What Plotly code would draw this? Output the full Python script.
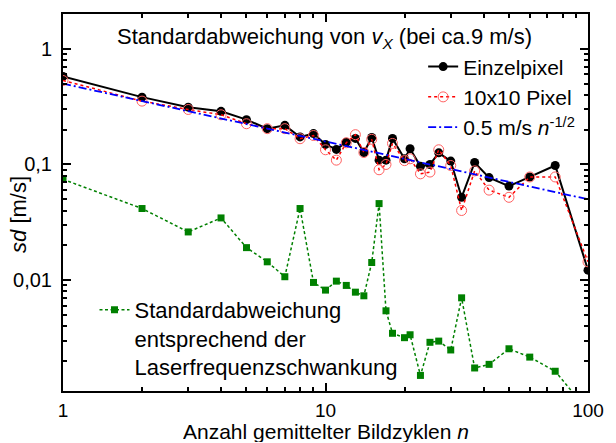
import plotly.graph_objects as go

# ---------------- data ----------------
n_vals = [1, 2, 3, 4, 5, 6, 7, 8, 9, 10, 11, 12, 13, 14, 15, 16, 17, 18, 20, 21,
          23, 25, 27, 30, 33, 37, 42, 50, 60, 75, 100]

sd_einzelpixel = [0.577, 0.382, 0.313, 0.288, 0.244, 0.204, 0.218, 0.173, 0.185, 0.149,
                  0.135, 0.156, 0.168, 0.127, 0.171, 0.109, 0.109, 0.168, 0.112, 0.137,
                  0.0964, 0.100, 0.126, 0.107, 0.052, 0.104, 0.077, 0.065, 0.078, 0.098,
                  0.0122]

sd_10x10 = [0.532, 0.353, 0.299, 0.269, 0.225, 0.204, 0.204, 0.167, 0.178, 0.134,
            0.109, 0.154, 0.181, 0.127, 0.165, 0.090, 0.100, 0.152, 0.108, 0.112,
            0.083, 0.086, 0.134, 0.098, 0.040, 0.088, 0.060, 0.052, 0.078, 0.078,
            0.0144]

sd_laser = [0.0744, 0.0416, 0.0261, 0.0345, 0.0191, 0.0144, 0.0107, 0.0416, 0.00955, 0.0082,
            0.0098, 0.0090, 0.00787, 0.00732, 0.0142, 0.0459, 0.00543, 0.00347, 0.00318, 0.00337,
            0.00150, 0.0029, 0.00297, 0.00249, 0.00703, 0.00174, 0.00187, 0.00255, 0.00216, 0.00163,
            0.00074]

fit_n = [1, 100]
fit_sd = [0.5, 0.05]

x_tickvals = [1, 10, 100]
x_ticktext = ["1", "10", "100"]
y_tickvals = [0.01, 0.1, 1]
y_ticktext = ["0,01", "0,1", "1"]

mult = [2, 3, 4, 5, 6, 7, 8, 9]
x_minor = [m * d for d in (1, 10) for m in mult]
y_minor = [m * d for d in (0.001, 0.01, 0.1) for m in mult]

FONT = "Liberation Sans, Arial, sans-serif"

fig = go.Figure()

fig.add_trace(go.Scatter(
    x=n_vals, y=sd_einzelpixel, mode="lines+markers", name="Einzelpixel",
    line=dict(color="black", width=2),
    marker=dict(symbol="circle", size=9, color="black"),
    legend="legend"))

fig.add_trace(go.Scatter(
    x=n_vals, y=sd_10x10, mode="lines+markers", name="10x10 Pixel",
    line=dict(color="#ff0000", width=1.5, dash="dot"),
    marker=dict(symbol="circle-open", size=10, color="#ff6060", line=dict(width=1)),
    legend="legend"))

fig.add_trace(go.Scatter(
    x=fit_n, y=fit_sd, mode="lines", name="0.5 m/s <i>n</i><sup>-1/2</sup>",
    line=dict(color="#0000ff", width=1.8, dash="8px,3px,2px,3px"),
    legend="legend"))

fig.add_trace(go.Scatter(
    x=n_vals, y=sd_laser, mode="lines+markers",
    name="Standardabweichung<br>entsprechend der<br>Laserfrequenzschwankung",
    line=dict(color="#008000", width=1.5, dash="3px,2.5px"),
    marker=dict(symbol="square", size=7, color="#008000"),
    legend="legend2"))

axis_common = dict(
    type="log", showgrid=False, zeroline=False, showline=True,
    linecolor="black", linewidth=2, mirror="allticks",
    ticks="inside", ticklen=8, tickwidth=1.5, tickcolor="black",
    ticklabeloverflow="allow",
)

fig.update_xaxes(
    **axis_common, range=[0, 2], tickvals=x_tickvals, ticktext=x_ticktext,
    tickfont=dict(family=FONT, size=19, color="black"),
    ticklabelstandoff=1,
    minor=dict(tickvals=x_minor, ticks="inside", ticklen=4, tickwidth=1.5,
               tickcolor="black", showgrid=False))

fig.update_yaxes(
    **axis_common, range=[-2.9586, 0.301], tickvals=y_tickvals, ticktext=y_ticktext,
    tickfont=dict(family=FONT, size=20, color="black"),
    ticklabelstandoff=5,
    minor=dict(tickvals=y_minor, ticks="inside", ticklen=4, tickwidth=1.5,
               tickcolor="black", showgrid=False))

fig.update_layout(
    width=616, height=443,
    margin=dict(l=63, r=16, t=14, b=52),
    plot_bgcolor="white", paper_bgcolor="white",
    font=dict(family=FONT, size=22, color="black"),
    showlegend=True,
    legend=dict(x=0.686, y=0.914, xanchor="left", yanchor="top",
                bgcolor="rgba(0,0,0,0)", font=dict(family=FONT, size=21),
                tracegroupgap=0),
    legend2=dict(x=0.06, y=0.271, xanchor="left", yanchor="top",
                 bgcolor="rgba(0,0,0,0)", font=dict(family=FONT, size=22),
                 valign="top"),
    annotations=[
        dict(text="Standardabweichung von <i>v</i><sub><i>X</i></sub> (bei ca.9 m/s)",
             xref="paper", yref="paper", x=0.0987, y=0.936,
             xanchor="left", yanchor="middle", showarrow=False,
             font=dict(family=FONT, size=22)),
        dict(text="Anzahl gemittelter Bildzyklen <i>n</i>",
             xref="paper", yref="paper", x=0.5, y=-0.1379,
             xanchor="center", yanchor="bottom", showarrow=False,
             height=22, borderpad=0,
             font=dict(family=FONT, size=21)),
        dict(text="<i>sd</i> [m/s]", textangle=-90,
             xref="paper", yref="paper", x=-0.0838, y=0.467,
             xanchor="center", yanchor="middle", showarrow=False,
             font=dict(family=FONT, size=22)),
    ],
)

fig.write_html("out.html")
